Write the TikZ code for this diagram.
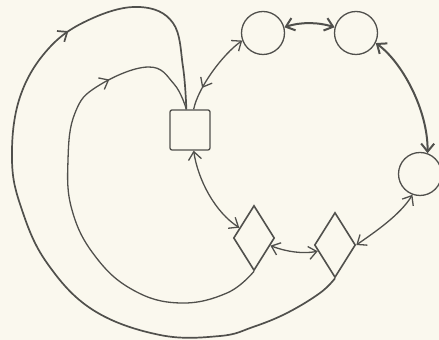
\documentclass[tikz,border=0pt]{standalone}
\usetikzlibrary{arrows.meta,shapes.geometric,decorations.markings}
\definecolor{bg}{RGB}{250,248,238}
\definecolor{ink}{RGB}{80,80,76}
\begin{document}
\begin{tikzpicture}[x=0.5pt,y=-0.5pt,
  >={Straight Barb[length=4pt,width=6.5pt]},
  line/.style={draw=ink,line width=0.65pt},
  heavy/.style={draw=ink,line width=1pt},
  ring/.style={circle,draw=ink,line width=0.65pt,minimum size=21.5pt,inner sep=0pt},
  boxnode/.style={rectangle,draw=ink,line width=0.65pt,minimum size=20pt,inner sep=0pt,rounded corners=1pt},
  gem/.style={diamond,draw=ink,line width=0.8pt,minimum width=20.5pt,minimum height=32.5pt,inner sep=0pt},
  midarrow/.style={postaction={decorate,decoration={markings,mark=at position #1 with {\arrow{>}}}}},
  midback/.style={postaction={decorate,decoration={markings,mark=at position #1 with {\arrowreversed{>}}}}},
]
\fill[bg] (0,0) rectangle (439,340);
\clip (0,0) rectangle (439,340);

\node[boxnode] (sq) at (190,130) {};
\node[ring] (c1) at (263,33) {};
\node[ring] (c2) at (356,33) {};
\node[ring] (c3) at (420,174) {};
\node[gem] (d1) at (254,238) {};
\node[gem] (d2) at (335,245) {};

% square -> circle 1
\draw[line,->,midback=0.27] (sq.80) .. controls (198,88) and (222,55) .. (c1.200);
% circle 1 <-> circle 2
\draw[heavy,<->] (c1.15) .. controls (300,22) and (318,22) .. (c2.165);
% circle 2 <-> circle 3
\draw[heavy,<->] (c2.-27) .. controls (402,62) and (428,110) .. (c3.70);
% circle 3 <-> diamond 2
\draw[line,<->] (c3.250) .. controls (400,215) and (375,232) .. (d2.east);
% diamond 1 <-> diamond 2
\draw[line,<->] (d1.-25) .. controls (287,252) and (303,254) .. (d2.200);
% square <-> diamond 1
\draw[line,<->] (sq.-80) .. controls (198,180) and (215,212) .. (d1.145);
% inner loop: diamond 1 -> square
\draw[line,midarrow=0.79] plot[smooth,tension=0.7] coordinates {(d1.south) (227,293) (180,303) (133,290) (95,256) (72,210) (68,160) (75,113) (98,86) (148,67) (174,84) (sq.100)};
% outer loop: diamond 2 -> square
\draw[draw=ink,line width=0.85pt,midarrow=0.743] plot[smooth,tension=0.65] coordinates {(d2.south) (320,293) (287,313) (253,327) (220,336) (160,335) (93,310) (47,263) (22,210) (12,160) (20,97) (50,47) (93,18) (140,7) (173,23) (183,67) (sq.100)};
\end{tikzpicture}
\end{document}
